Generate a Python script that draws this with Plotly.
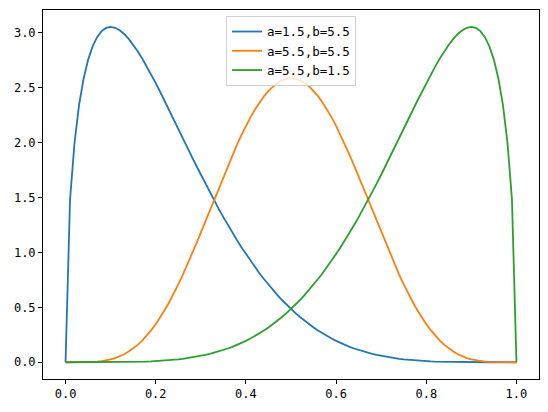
import plotly.graph_objects as go

# x positions (step 0.01)
x_vals = [round(k / 100, 2) for k in range(101)]

# a=1.5, b=5.5
blue_vals = [
    0.000, 1.484, 2.004, 2.344, 2.583, 2.755, 2.878, 2.962, 3.017, 3.046,
    3.056, 3.047, 3.025, 2.991, 2.946, 2.893, 2.833, 2.767, 2.696, 2.621,
    2.543, 2.462, 2.380, 2.296, 2.212, 2.127, 2.042, 1.957, 1.873, 1.790,
    1.708, 1.627, 1.548, 1.471, 1.395, 1.322, 1.250, 1.181, 1.113, 1.048,
    0.986, 0.925, 0.867, 0.811, 0.758, 0.707, 0.658, 0.611, 0.567, 0.525,
    0.485, 0.447, 0.412, 0.378, 0.346, 0.317, 0.289, 0.263, 0.238, 0.216,
    0.195, 0.175, 0.157, 0.140, 0.125, 0.111, 0.098, 0.087, 0.076, 0.066,
    0.058, 0.050, 0.043, 0.037, 0.031, 0.026, 0.022, 0.018, 0.015, 0.012,
    0.010, 0.008, 0.006, 0.005, 0.004, 0.003, 0.002, 0.0015, 0.001, 0.0007,
    0.0005, 0.0003, 0.0002, 0.0001, 0.0, 0.0, 0.0, 0.0, 0.0, 0.0,
    0.0,
]

# a=5.5, b=5.5
orange_vals = [
    0.000, 0.000, 0.000, 0.0002, 0.0006, 0.0015, 0.003, 0.006, 0.011, 0.017,
    0.026, 0.038, 0.054, 0.073, 0.097, 0.125, 0.158, 0.197, 0.241, 0.292,
    0.347, 0.409, 0.476, 0.549, 0.626, 0.709, 0.796, 0.888, 0.983, 1.080,
    1.181, 1.283, 1.385, 1.488, 1.591, 1.692, 1.792, 1.888, 1.981, 2.069,
    2.153, 2.231, 2.302, 2.367, 2.424, 2.473, 2.513, 2.545, 2.569, 2.582,
    2.587, 2.582, 2.569, 2.545, 2.513, 2.473, 2.424, 2.367, 2.302, 2.231,
    2.153, 2.069, 1.981, 1.888, 1.792, 1.692, 1.591, 1.488, 1.385, 1.283,
    1.181, 1.080, 0.983, 0.888, 0.796, 0.709, 0.626, 0.549, 0.476, 0.409,
    0.347, 0.292, 0.241, 0.197, 0.158, 0.125, 0.097, 0.073, 0.054, 0.038,
    0.026, 0.017, 0.011, 0.006, 0.003, 0.0015, 0.0006, 0.0002, 0.000, 0.000,
    0.000,
]

# a=5.5, b=1.5
green_vals = [
    0.0, 0.0, 0.0, 0.0, 0.0, 0.0, 0.0, 0.0001, 0.0002, 0.0003,
    0.0005, 0.0007, 0.001, 0.0015, 0.002, 0.003, 0.004, 0.005, 0.006, 0.008,
    0.010, 0.012, 0.015, 0.018, 0.022, 0.026, 0.031, 0.037, 0.043, 0.050,
    0.058, 0.066, 0.076, 0.087, 0.098, 0.111, 0.125, 0.140, 0.157, 0.175,
    0.195, 0.216, 0.238, 0.263, 0.289, 0.317, 0.346, 0.378, 0.412, 0.447,
    0.485, 0.525, 0.567, 0.611, 0.658, 0.707, 0.758, 0.811, 0.867, 0.925,
    0.986, 1.048, 1.113, 1.181, 1.250, 1.322, 1.395, 1.471, 1.548, 1.627,
    1.708, 1.790, 1.873, 1.957, 2.042, 2.127, 2.212, 2.296, 2.380, 2.462,
    2.543, 2.621, 2.696, 2.767, 2.833, 2.893, 2.946, 2.991, 3.025, 3.047,
    3.056, 3.046, 3.017, 2.962, 2.878, 2.755, 2.583, 2.344, 2.004, 1.484,
    0.000,
]

series_names = ["a=1.5,b=5.5", "a=5.5,b=5.5", "a=5.5,b=1.5"]
series_vals = [blue_vals, orange_vals, green_vals]
series_colors = ["#1f77b4", "#ff7f0e", "#2ca02c"]

x_ticks = [0.0, 0.2, 0.4, 0.6, 0.8, 1.0]
y_ticks = [0.0, 0.5, 1.0, 1.5, 2.0, 2.5, 3.0]

FONT = "DejaVu Sans Mono, monospace"

fig = go.Figure()
for name, vals, color in zip(series_names, series_vals, series_colors):
    fig.add_trace(go.Scatter(
        x=x_vals, y=vals, mode="lines", name=name,
        line=dict(color=color, width=1.8),
    ))

axis_common = dict(
    showgrid=False, zeroline=False, showline=True, linecolor="black",
    linewidth=1, mirror=True, ticks="outside", ticklen=4, tickwidth=1,
    tickcolor="black", tickformat=".1f", automargin=False,
    tickfont=dict(family=FONT, size=12, color="black"),
)

fig.update_layout(
    width=548, height=412,
    margin=dict(l=43, r=9, t=10, b=33),
    paper_bgcolor="white", plot_bgcolor="white",
    font=dict(family=FONT, size=12, color="black"),
    xaxis=dict(range=[-0.05, 1.05], tickvals=x_ticks, **axis_common),
    yaxis=dict(range=[-0.1528, 3.2092], tickvals=y_ticks, **axis_common),
    legend=dict(
        x=0.5, xanchor="center", y=0.984, yanchor="top",
        bgcolor="rgba(255,255,255,0.8)", bordercolor="#d0d0d0", borderwidth=1,
        font=dict(family=FONT, size=12.5, color="black"),
        itemwidth=30, tracegroupgap=0,
    ),
    showlegend=True,
)

fig.write_html(
    "out.html",
    config={"displayModeBar": False},
    post_script="document.body.style.margin='0';document.body.style.overflow='hidden';",
)
